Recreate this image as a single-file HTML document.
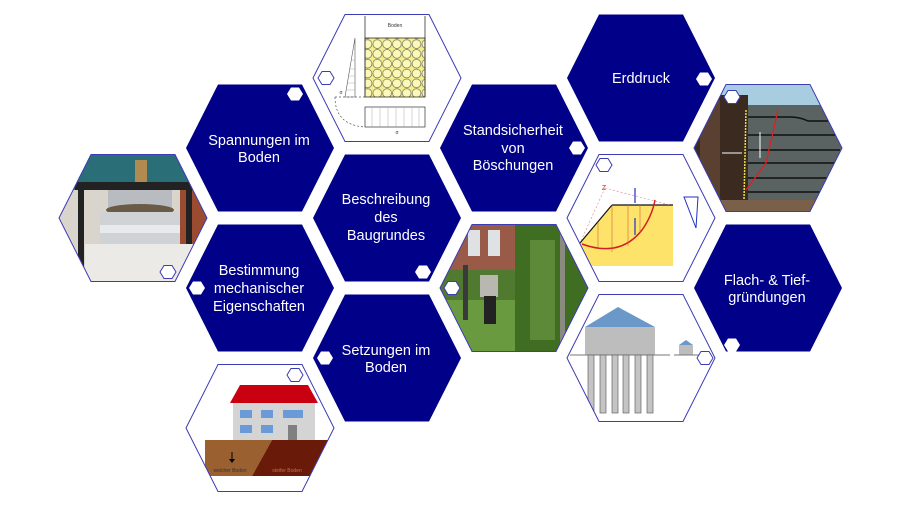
<!DOCTYPE html>
<html><head><meta charset="utf-8"><style>
html,body{margin:0;padding:0;background:#fff;width:900px;height:506px;overflow:hidden}
svg{display:block}
text{font-family:"Liberation Sans",sans-serif;fill:#fff;font-size:14.5px;text-anchor:middle}
.s{font-size:5px;fill:#333}
</style></head><body>
<svg width="900" height="506" viewBox="0 0 900 506" xmlns="http://www.w3.org/2000/svg">
<defs>
<clipPath id="c1"><polygon points="313,78 345,14.5 429,14.5 461,78 429,141.5 345,141.5"/></clipPath>
<clipPath id="c2"><polygon points="59,218 91,154.5 175,154.5 207,218 175,281.5 91,281.5"/></clipPath>
<clipPath id="c3"><polygon points="440,288 472,224.5 556,224.5 588,288 556,351.5 472,351.5"/></clipPath>
<clipPath id="c4"><polygon points="567,218 599,154.5 683,154.5 715,218 683,281.5 599,281.5"/></clipPath>
<clipPath id="c5"><polygon points="694,148 726,84.5 810,84.5 842,148 810,211.5 726,211.5"/></clipPath>
<clipPath id="c6"><polygon points="567,358 599,294.5 683,294.5 715,358 683,421.5 599,421.5"/></clipPath>
<clipPath id="c7"><polygon points="186,428 218,364.5 302,364.5 334,428 302,491.5 218,491.5"/></clipPath>
<pattern id="circ" width="9.8" height="9.8" patternUnits="userSpaceOnUse"><rect width="9.8" height="9.8" fill="#f4ef8a"/><circle cx="4.9" cy="4.9" r="4.4" fill="#fbf8b8" stroke="#555" stroke-width="0.6"/></pattern>
</defs>

<!-- dark hexes -->
<g fill="#000088">
<polygon points="186,148 218,84.5 302,84.5 334,148 302,211.5 218,211.5"/>
<polygon points="313,218 345,154.5 429,154.5 461,218 429,281.5 345,281.5"/>
<polygon points="186,288 218,224.5 302,224.5 334,288 302,351.5 218,351.5"/>
<polygon points="313,358 345,294.5 429,294.5 461,358 429,421.5 345,421.5"/>
<polygon points="440,148 472,84.5 556,84.5 588,148 556,211.5 472,211.5"/>
<polygon points="567,78 599,14.5 683,14.5 715,78 683,141.5 599,141.5"/>
<polygon points="694,288 726,224.5 810,224.5 842,288 810,351.5 726,351.5"/>
</g>

<!-- image 1: Boden diagram -->
<g clip-path="url(#c1)">
<rect x="300" y="10" width="170" height="140" fill="#fff"/>
<rect x="365" y="38" width="60" height="59" fill="url(#circ)" stroke="#333" stroke-width="0.8"/>
<line x1="365" y1="16" x2="365" y2="97" stroke="#333" stroke-width="0.8"/>
<line x1="425" y1="16" x2="425" y2="97" stroke="#333" stroke-width="0.8"/>
<text x="395" y="27" class="s">Boden</text>
<polygon points="355,38 345,97 355,97" fill="#fff" stroke="#555" stroke-width="0.6"/>
<g stroke="#999" stroke-width="0.4"><line x1="347" y1="90" x2="355" y2="90"/><line x1="348" y1="83" x2="355" y2="83"/><line x1="349" y1="76" x2="355" y2="76"/><line x1="350" y1="69" x2="355" y2="69"/><line x1="352" y1="60" x2="355" y2="60"/></g>
<path d="M335,97 Q335,125 365,127" fill="none" stroke="#555" stroke-dasharray="2,2" stroke-width="0.7"/>
<line x1="335" y1="97" x2="365" y2="97" stroke="#555" stroke-dasharray="2,2" stroke-width="0.7"/>
<rect x="365" y="107" width="60" height="20" fill="#fff" stroke="#333" stroke-width="0.7"/>
<g stroke="#aaa" stroke-width="0.5"><line x1="372" y1="107" x2="372" y2="127"/><line x1="380" y1="107" x2="380" y2="127"/><line x1="388" y1="107" x2="388" y2="127"/><line x1="396" y1="107" x2="396" y2="127"/><line x1="404" y1="107" x2="404" y2="127"/><line x1="412" y1="107" x2="412" y2="127"/><line x1="419" y1="107" x2="419" y2="127"/></g>
<text x="341" y="94" class="s">σ</text><text x="397" y="134" class="s">σ</text>
</g>
<polygon points="313,78 345,14.5 429,14.5 461,78 429,141.5 345,141.5" fill="none" stroke="#3c3cb4" stroke-width="1"/>

<!-- image 2: machine -->
<g clip-path="url(#c2)">
<rect x="55" y="150" width="160" height="140" fill="#d9d4cc"/>
<rect x="55" y="150" width="160" height="40" fill="#2a6f78"/>
<rect x="180" y="185" width="35" height="70" fill="#9a4b30"/>
<rect x="75" y="182" width="120" height="8" fill="#222"/>
<rect x="78" y="182" width="6" height="100" fill="#222"/>
<rect x="186" y="182" width="6" height="100" fill="#222"/>
<rect x="135" y="160" width="12" height="22" fill="#b08a50"/>
<rect x="108" y="190" width="64" height="20" fill="#b8bcc0"/>
<ellipse cx="140" cy="210" rx="34" ry="6" fill="#6a5a48"/>
<rect x="100" y="212" width="80" height="32" fill="#cfd3d6"/>
<rect x="100" y="225" width="80" height="8" fill="#e8eaec"/>
<rect x="85" y="244" width="108" height="40" fill="#eceae6"/>
</g>
<polygon points="59,218 91,154.5 175,154.5 207,218 175,281.5 91,281.5" fill="none" stroke="#3c3cb4" stroke-width="1"/>

<!-- image 3: photo -->
<g clip-path="url(#c3)">
<rect x="435" y="220" width="160" height="140" fill="#4f7a30"/>
<rect x="435" y="220" width="80" height="50" fill="#9a5a48"/>
<g fill="#dfe2e4"><rect x="468" y="230" width="12" height="26"/><rect x="488" y="230" width="12" height="26"/><rect x="448" y="232" width="8" height="24"/></g>
<rect x="515" y="220" width="80" height="140" fill="#3f6e22"/>
<rect x="530" y="240" width="25" height="100" fill="#5c8a38"/>
<rect x="560" y="230" width="5" height="120" fill="#8a8a80"/>
<rect x="435" y="300" width="80" height="60" fill="#6a9a40"/>
<rect x="480" y="275" width="18" height="22" fill="#b8b8b0"/>
<rect x="484" y="296" width="12" height="28" fill="#222"/>
<rect x="463" y="265" width="5" height="55" fill="#3a3a3a"/>
</g>
<polygon points="440,288 472,224.5 556,224.5 588,288 556,351.5 472,351.5" fill="none" stroke="#3c3cb4" stroke-width="1"/>

<!-- image 4: slope -->
<g clip-path="url(#c4)">
<rect x="560" y="150" width="160" height="140" fill="#fff"/>
<polygon points="580,243 612,205 673,205 673,266 580,266" fill="#fde36a"/>
<line x1="580" y1="243" x2="612" y2="205" stroke="#111" stroke-width="1.2"/>
<line x1="612" y1="205" x2="673" y2="205" stroke="#111" stroke-width="1.2"/>
<path d="M582,244 Q620,258 642,230 Q652,216 655,200" fill="none" stroke="#d02020" stroke-width="1.5"/>
<g stroke="#d06040" stroke-width="0.6"><line x1="598" y1="222" x2="598" y2="248"/><line x1="612" y1="205" x2="612" y2="252"/><line x1="628" y1="205" x2="628" y2="246"/><line x1="640" y1="205" x2="640" y2="232"/></g>
<path d="M605,188 L580,243 M605,188 L670,205" fill="none" stroke="#e08080" stroke-dasharray="2,2" stroke-width="0.6"/>
<text x="604" y="190" class="s" style="fill:#d02020;font-size:7px">Z</text>
<line x1="635" y1="188" x2="635" y2="203" stroke="#2030c0" stroke-width="1.2"/>
<line x1="635" y1="218" x2="635" y2="235" stroke="#2030c0" stroke-width="1.2"/>
<polygon points="684,197 698,197 696,228" fill="none" stroke="#2030c0" stroke-width="1"/>
</g>
<polygon points="567,218 599,154.5 683,154.5 715,218 683,281.5 599,281.5" fill="none" stroke="#3c3cb4" stroke-width="1"/>

<!-- image 5: earth pressure photo -->
<g clip-path="url(#c5)">
<rect x="690" y="80" width="160" height="140" fill="#5a6262"/>
<rect x="690" y="80" width="160" height="25" fill="#a8cce0"/>
<rect x="690" y="95" width="58" height="120" fill="#3a2a20"/>
<rect x="700" y="100" width="20" height="100" fill="#5a4030"/>
<line x1="746" y1="110" x2="744" y2="200" stroke="#e8e040" stroke-width="1.5" stroke-dasharray="2,1"/>
<g stroke="#111" stroke-width="1.5" fill="none"><path d="M748,117 L790,117 Q800,117 808,121 L840,121"/><path d="M748,135 L840,135"/><path d="M748,150 L840,150"/><path d="M748,163 L840,163"/><path d="M748,178 L840,178"/><path d="M748,192 L840,192"/></g>
<polyline points="778,110 766,163 746,190" fill="none" stroke="#e02020" stroke-width="1.3"/>
<rect x="690" y="200" width="160" height="15" fill="#7a6048"/>
<line x1="760" y1="132" x2="760" y2="158" stroke="#fff" stroke-width="1"/>
<line x1="722" y1="153" x2="742" y2="153" stroke="#fff" stroke-width="1"/>
</g>
<polygon points="694,148 726,84.5 810,84.5 842,148 810,211.5 726,211.5" fill="none" stroke="#3c3cb4" stroke-width="1"/>

<!-- image 6: piles -->
<g clip-path="url(#c6)">
<rect x="560" y="290" width="160" height="140" fill="#fff"/>
<polygon points="585,327 618,307 655,327" fill="#6a98c8"/>
<rect x="585" y="327" width="70" height="28" fill="#bdbdbd"/>
<line x1="570" y1="355" x2="670" y2="355" stroke="#777" stroke-width="1"/>
<g fill="#c4c4c4" stroke="#666" stroke-width="0.7"><rect x="588" y="355" width="6" height="58"/><rect x="600" y="355" width="6" height="58"/><rect x="612" y="355" width="6" height="58"/><rect x="623" y="355" width="6" height="58"/><rect x="635" y="355" width="6" height="58"/><rect x="647" y="355" width="6" height="58"/></g>
<polygon points="679,345 686,340 693,345" fill="#6a98c8"/>
<rect x="679" y="345" width="14" height="10" fill="#bdbdbd"/>
<line x1="674" y1="355" x2="705" y2="355" stroke="#777" stroke-width="1"/>
</g>
<polygon points="567,358 599,294.5 683,294.5 715,358 683,421.5 599,421.5" fill="none" stroke="#3c3cb4" stroke-width="1"/>

<!-- image 7: house -->
<g clip-path="url(#c7)">
<rect x="180" y="360" width="160" height="140" fill="#fff"/>
<polygon points="205,440 272,440 252,476 205,476" fill="#9a6030"/>
<polygon points="272,440 333,440 333,476 252,476" fill="#6a1a08"/>
<polygon points="230,403 240,385 308,385 318,403" fill="#c80010"/>
<rect x="233" y="403" width="82" height="37" fill="#d4d4d4"/>
<g fill="#6a9ad8"><rect x="240" y="410" width="12" height="8"/><rect x="261" y="410" width="12" height="8"/><rect x="283" y="410" width="20" height="8"/><rect x="240" y="425" width="12" height="8"/><rect x="261" y="425" width="12" height="8"/></g>
<rect x="288" y="425" width="9" height="15" fill="#808080"/>
<line x1="232" y1="452" x2="232" y2="461" stroke="#000" stroke-width="1"/>
<polygon points="229,459 235,459 232,463" fill="#000"/>
<text x="230" y="472" class="s" style="font-size:5px">weicher Boden</text>
<text x="287" y="472" class="s" style="font-size:5px;fill:#c07050">steifer Boden</text>
</g>
<polygon points="186,428 218,364.5 302,364.5 334,428 302,491.5 218,491.5" fill="none" stroke="#3c3cb4" stroke-width="1"/>

<!-- small white markers on dark hexes -->
<g fill="#fff">
<polygon points="287,94 291,87.5 299,87.5 303,94 299,100.5 291,100.5"/>
<polygon points="696,79 700,72.5 708,72.5 712,79 708,85.5 700,85.5"/>
<polygon points="569,148 573,141.5 581,141.5 585,148 581,154.5 573,154.5"/>
<polygon points="189,288 193,281.5 201,281.5 205,288 201,294.5 193,294.5"/>
<polygon points="415,272 419,265.5 427,265.5 431,272 427,278.5 419,278.5"/>
<polygon points="317,358 321,351.5 329,351.5 333,358 329,364.5 321,364.5"/>
<polygon points="724,345 728,338.5 736,338.5 740,345 736,351.5 728,351.5"/>
</g>
<!-- outlined markers on images -->
<g fill="#fff" stroke="#3c3cb4" stroke-width="1">
<polygon points="318,78 322,71.5 330,71.5 334,78 330,84.5 322,84.5"/>
<polygon points="724,97 728,90.5 736,90.5 740,97 736,103.5 728,103.5"/>
<polygon points="596,165 600,158.5 608,158.5 612,165 608,171.5 600,171.5"/>
<polygon points="160,272 164,265.5 172,265.5 176,272 172,278.5 164,278.5"/>
<polygon points="444,288 448,281.5 456,281.5 460,288 456,294.5 448,294.5"/>
<polygon points="287,375 291,368.5 299,368.5 303,375 299,381.5 291,381.5"/>
<polygon points="697,358 701,351.5 709,351.5 713,358 709,364.5 701,364.5"/>
</g>

<!-- labels -->
<text x="259" y="145">Spannungen im</text>
<text x="259" y="162">Boden</text>
<text x="386" y="204">Beschreibung</text>
<text x="386" y="222">des</text>
<text x="386" y="240">Baugrundes</text>
<text x="259" y="275">Bestimmung</text>
<text x="259" y="293">mechanischer</text>
<text x="259" y="311">Eigenschaften</text>
<text x="386" y="355">Setzungen im</text>
<text x="386" y="372">Boden</text>
<text x="513" y="135">Standsicherheit</text>
<text x="513" y="153">von</text>
<text x="513" y="170">Böschungen</text>
<text x="641" y="83">Erddruck</text>
<text x="767" y="285">Flach- &amp; Tief-</text>
<text x="767" y="302">gründungen</text>
</svg>
</body></html>
